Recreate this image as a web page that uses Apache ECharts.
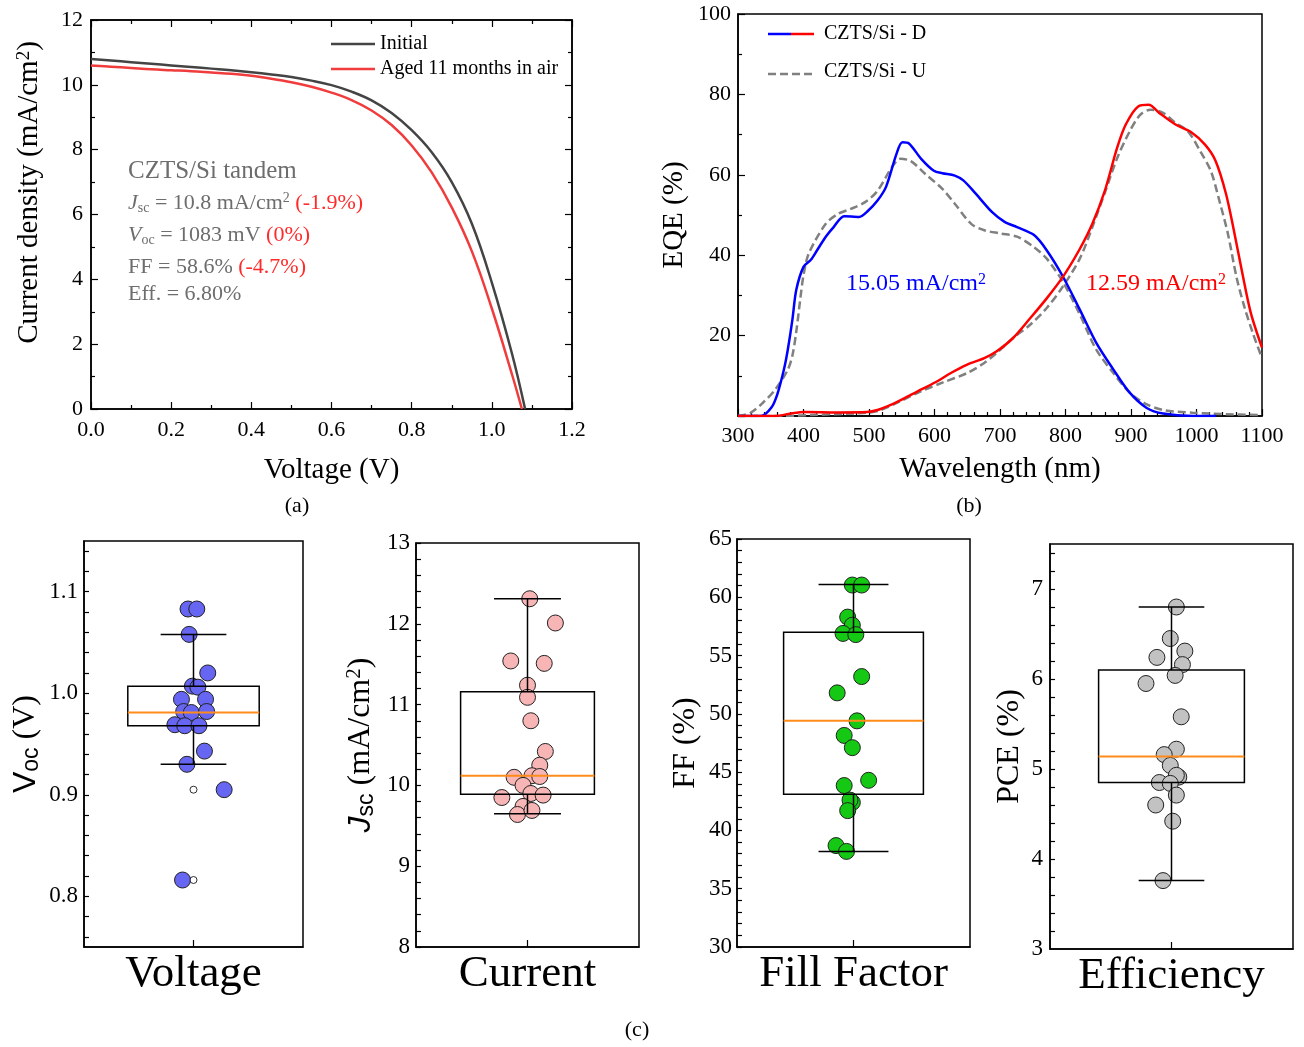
<!DOCTYPE html>
<html>
<head>
<meta charset="utf-8">
<script src="https://cdn.jsdelivr.net/npm/echarts@6/dist/echarts.min.js"></script>
<style>
html, body { margin: 0; padding: 0; background: #fff; }
#main { width: 1304px; height: 1047px; }
</style>
</head>
<body>
<div id="main"></div>
<script>
// ---- data: (a) J-V curves ----
var ivInitV = [0, 0.05, 0.1, 0.15, 0.2, 0.25, 0.3, 0.35, 0.4, 0.45, 0.5, 0.55, 0.6, 0.65, 0.7, 0.75, 0.8, 0.85, 0.9, 0.95, 1.0, 1.05, 1.083];
var ivInitJ = [10.80, 10.75, 10.70, 10.65, 10.60, 10.55, 10.50, 10.45, 10.39, 10.32, 10.24, 10.13, 9.99, 9.79, 9.52, 9.13, 8.60, 7.92, 7.00, 5.72, 3.90, 1.72, 0];
var ivAgedV = [0, 0.05, 0.1, 0.15, 0.2, 0.25, 0.3, 0.35, 0.4, 0.45, 0.5, 0.55, 0.6, 0.65, 0.7, 0.75, 0.8, 0.85, 0.9, 0.95, 1.0, 1.05, 1.075];
var ivAgedJ = [10.60, 10.56, 10.52, 10.48, 10.45, 10.42, 10.38, 10.34, 10.28, 10.19, 10.08, 9.94, 9.76, 9.53, 9.21, 8.76, 8.13, 7.30, 6.22, 4.87, 3.10, 1.08, 0];

// ---- data: (b) EQE curves ----
var dTopW = [300, 320, 335, 351, 360, 370, 376, 383, 389, 400, 411, 421, 434, 446, 462, 485, 497, 513, 526, 542, 551, 561, 580, 599, 612, 631, 644, 663, 688, 707, 726, 752, 771, 796, 822, 847, 873, 898, 924, 949, 994, 1030];
var dTopE = [0, 0, 0, 2.1, 5.4, 11.5, 16.5, 23.9, 31.4, 37.1, 38.8, 41.3, 44.6, 47, 49.7, 49.5, 50.8, 53.6, 57, 65.2, 68.1, 67.8, 63.9, 61, 60.4, 59.8, 58.6, 55.3, 50.7, 48.3, 47, 45, 41.3, 34.7, 26.4, 18.2, 11.6, 5.8, 2, 0.6, 0, 0];
var dBotW = [300, 357, 383, 402, 453, 497, 513, 535, 561, 580, 605, 625, 650, 676, 695, 720, 746, 771, 796, 822, 841, 860, 879, 892, 911, 927, 943, 968, 991, 1013, 1029, 1045, 1057, 1070, 1083, 1100];
var dBotE = [0, 0, 0.7, 1.0, 0.9, 1.0, 1.5, 2.9, 5.0, 6.6, 8.7, 10.7, 12.8, 14.4, 16.1, 19.4, 24.3, 29.2, 34.6, 41.6, 47.8, 56, 66.8, 72.5, 77, 77.4, 75.4, 72.5, 70.7, 67.5, 63.5, 55.3, 46.2, 35.5, 25.6, 17];
var uTopW = [300, 319, 338, 357, 376, 383, 389, 395, 400, 408, 434, 453, 472, 494, 513, 535, 548, 564, 586, 612, 631, 656, 676, 701, 726, 752, 771, 796, 822, 847, 873, 898, 924, 949, 994, 1057, 1100];
var uTopE = [0, 0.8, 3.3, 6.6, 11.5, 15, 21, 29, 35, 40.4, 47.8, 50.3, 51.5, 53.2, 56, 61.9, 64, 63.4, 60.2, 56.5, 52.8, 47.8, 46.2, 45.4, 44.6, 42, 39.2, 33.4, 25.2, 16.5, 10.7, 5.8, 2.9, 1.5, 0.8, 0.4, 0.2];
var uBotW = [300, 357, 421, 497, 513, 548, 580, 612, 650, 676, 695, 720, 746, 771, 796, 822, 841, 860, 879, 898, 914, 930, 949, 968, 987, 1006, 1022, 1035, 1048, 1061, 1073, 1086, 1100];
var uBotE = [0, 0, 0.3, 0.8, 1.2, 3.7, 6.2, 8.3, 10.7, 13.2, 15.7, 19.4, 22.7, 26.8, 32.2, 39.2, 47, 55.5, 64.2, 70.8, 74.9, 76.2, 75.4, 72.9, 70.8, 65.8, 60.9, 53.5, 45.3, 34.6, 27.2, 20.6, 14.4];

// ---- data: (c) device statistics, x = horizontal jitter ----
var vocX = [-0.05, 0.03, -0.04, 0.13, -0.01, 0.04, -0.11, 0.11, -0.09, -0.02, 0.12, -0.17, -0.08, 0.05, 0.10, -0.06, 0.28, -0.10];
var vocY = [1.083, 1.083, 1.058, 1.020, 1.007, 1.006, 0.994, 0.994, 0.982, 0.981, 0.982, 0.969, 0.968, 0.968, 0.943, 0.930, 0.905, 0.816];
var vocBox = [0.968, 0.981, 1.007, 0.930, 1.058]; // q1, median, q3, low, high
var vocOut = [0.905, 0.816];

var jscX = [0.02, 0.25, -0.15, 0.15, 0.0, 0.0, 0.03, 0.16, 0.11, -0.12, 0.04, 0.11, -0.04, 0.03, 0.14, -0.23, -0.04, -0.09, 0.04];
var jscY = [12.31, 12.01, 11.54, 11.51, 11.24, 11.09, 10.80, 10.42, 10.25, 10.10, 10.12, 10.11, 10.0, 9.90, 9.88, 9.85, 9.74, 9.64, 9.69];
var jscBox = [9.89, 10.12, 11.16, 9.65, 12.31];

var ffX = [-0.01, 0.07, -0.05, -0.01, -0.09, 0.02, 0.07, -0.14, 0.03, -0.08, -0.01, 0.13, -0.08, -0.01, -0.03, -0.05, -0.15, -0.06];
var ffY = [61.05, 61.05, 58.3, 57.6, 56.9, 56.8, 53.2, 51.8, 49.4, 48.15, 47.1, 44.3, 43.85, 42.4, 42.6, 41.7, 38.7, 38.2];
var ffBox = [43.1, 49.4, 57.0, 38.2, 61.1];

var pceX = [0.04, -0.01, 0.11, -0.12, 0.09, 0.03, -0.21, 0.08, 0.04, -0.06, -0.01, 0.06, 0.04, -0.10, -0.01, 0.04, -0.13, 0.01, -0.07];
var pceY = [6.80, 6.45, 6.31, 6.24, 6.16, 6.04, 5.95, 5.58, 5.22, 5.16, 5.04, 4.91, 4.93, 4.85, 4.84, 4.71, 4.60, 4.42, 3.76];
var pceBox = [4.85, 5.14, 6.10, 3.76, 6.80];

// tick values for the box panels
var vocLabels = [0.8, 0.9, 1.0, 1.1];
var vocTicks = [0.76, 0.78, 0.8, 0.82, 0.84, 0.86, 0.88, 0.9, 0.92, 0.94, 0.96, 0.98, 1.0, 1.02, 1.04, 1.06, 1.08, 1.1, 1.12, 1.14];
var pceLabels = [3, 4, 5, 6, 7];
var pceTicks = [3.2, 3.4, 3.6, 3.8, 4, 4.2, 4.4, 4.6, 4.8, 5, 5.2, 5.4, 5.6, 5.8, 6, 6.2, 6.4, 6.6, 6.8, 7, 7.2, 7.4];

var SERIF = "'Liberation Serif', 'Times New Roman', serif";
var SANS = "'Liberation Sans', Arial, sans-serif";

function zip(xs, ys) {
    var out = [];
    for (var i = 0; i < xs.length; i++) out.push([xs[i], ys[i]]);
    return out;
}

function merge(a, b) {
    var r = {};
    for (var k in a) r[k] = a[k];
    for (var k2 in b) {
        if (b[k2] && typeof b[k2] === 'object' && !Array.isArray(b[k2]) && r[k2] && typeof r[k2] === 'object') {
            r[k2] = merge(r[k2], b[k2]);
        } else {
            r[k2] = b[k2];
        }
    }
    return r;
}

var baseAxis = {
    type: 'value',
    nameLocation: 'middle',
    splitLine: { show: false },
    axisLine: { show: true, onZero: false, lineStyle: { color: '#000', width: 1.5 } },
    axisTick: { show: true, inside: true, length: 7, lineStyle: { color: '#000', width: 1.2 } },
    minorTick: { show: true, splitNumber: 2, length: 4, lineStyle: { color: '#000', width: 1.2 } },
    axisLabel: { color: '#000', fontFamily: SERIF, fontSize: 22 },
    nameTextStyle: { color: '#000', fontFamily: SERIF, fontSize: 29 }
};
function ax(o) { return merge(baseAxis, o); }

var supRich = { sup: { fontFamily: SERIF, fontSize: 19, verticalAlign: 'top', lineHeight: 14 } };

// box panel frame
function boxGrid(l, t, w, h) {
    return { left: l, top: t, width: w, height: h, show: true, borderColor: '#000', borderWidth: 1.5, backgroundColor: 'transparent' };
}
function boxX(gi, name) {
    return ax({
        gridIndex: gi, min: -1, max: 1, name: name, nameGap: 5,
        axisLabel: { show: false },
        axisTick: { customValues: [0], length: 7 },
        minorTick: { show: false },
        nameTextStyle: { fontSize: 45 }
    });
}

function boxSeries(idx, box, capHalf) {
    return {
        type: 'custom', xAxisIndex: idx, yAxisIndex: idx, z: 5,
        data: [[0].concat(box)],
        encode: { x: 0, y: [1, 2, 3, 4, 5] },
        renderItem: function (params, api) {
            var q1 = api.value(1), md = api.value(2), q3 = api.value(3), lo = api.value(4), hi = api.value(5);
            var tl = api.coord([-0.6, q3]), br = api.coord([0.6, q1]);
            var ml = api.coord([-0.6, md]), mr = api.coord([0.6, md]);
            var top = api.coord([0, hi]), bot = api.coord([0, lo]);
            var cl = api.coord([-capHalf, hi]), cr = api.coord([capHalf, hi]);
            var bl = api.coord([-capHalf, lo]), brc = api.coord([capHalf, lo]);
            var s = { stroke: '#000', lineWidth: 1.5, fill: null };
            return {
                type: 'group',
                children: [
                    { type: 'rect', shape: { x: tl[0], y: tl[1], width: br[0] - tl[0], height: br[1] - tl[1] }, style: s },
                    { type: 'line', shape: { x1: top[0], y1: top[1], x2: top[0], y2: tl[1] }, style: s },
                    { type: 'line', shape: { x1: bot[0], y1: br[1], x2: bot[0], y2: bot[1] }, style: s },
                    { type: 'line', shape: { x1: cl[0], y1: cl[1], x2: cr[0], y2: cr[1] }, style: s },
                    { type: 'line', shape: { x1: bl[0], y1: bl[1], x2: brc[0], y2: brc[1] }, style: s },
                    { type: 'line', shape: { x1: ml[0], y1: ml[1], x2: mr[0], y2: mr[1] }, style: { stroke: '#ff8c1a', lineWidth: 2 } }
                ]
            };
        }
    };
}
function dots(idx, xs, ys, color) {
    return {
        type: 'scatter', xAxisIndex: idx, yAxisIndex: idx, z: 3,
        symbolSize: 16, data: zip(xs, ys),
        itemStyle: { color: color, borderColor: '#222', borderWidth: 1, opacity: 1 }
    };
}

var chart = echarts.init(document.getElementById('main'));

var option = {
    backgroundColor: '#fff',
    animation: false,
    grid: [
        { left: 91, top: 20, width: 481, height: 389, show: true, borderColor: '#000', borderWidth: 1.5, backgroundColor: 'transparent' },
        { left: 738, top: 14, width: 524, height: 402, show: true, borderColor: '#000', borderWidth: 1.5, backgroundColor: 'transparent' },
        boxGrid(84, 541, 219, 406),
        boxGrid(416, 543, 223, 404),
        boxGrid(737, 539, 233, 408),
        boxGrid(1050, 544, 243, 405)
    ],
    xAxis: [
        ax({ gridIndex: 0, min: 0, max: 1.2, interval: 0.2, name: 'Voltage (V)', nameGap: 47,
            axisLabel: { margin: 10, formatter: function (v) { return v.toFixed(1); } } }),
        ax({ gridIndex: 0, min: 0, max: 1.2, interval: 0.2, position: 'top', axisLabel: { show: false } }),
        ax({ gridIndex: 1, min: 300, max: 1100, interval: 100, name: 'Wavelength (nm)', nameGap: 39,
            axisLabel: { margin: 9, formatter: function (v) { return String(v); } }, minorTick: { splitNumber: 5 } }),
        boxX(2, 'Voltage'),
        boxX(3, 'Current'),
        boxX(4, 'Fill Factor'),
        boxX(5, 'Efficiency')
    ],
    yAxis: [
        ax({ gridIndex: 0, min: 0, max: 12, interval: 2, name: 'Current density (mA/cm{sup|2})', nameGap: 47,
            axisLabel: { margin: 8 }, nameTextStyle: { rich: supRich, padding: [0, 0, 0, 44] } }),
        ax({ gridIndex: 0, min: 0, max: 12, interval: 2, position: 'right', axisLabel: { show: false } }),
        ax({ gridIndex: 1, min: 0, max: 100, interval: 20, name: 'EQE (%)', nameGap: 49,
            axisLabel: { margin: 7, showMinLabel: false } }),
        ax({ gridIndex: 2, min: 0.75, max: 1.15, name: '{v|V}{sub|oc} (V)', nameGap: 41,
            axisLabel: { margin: 6, fontSize: 23, customValues: vocLabels, formatter: function (v) { return v.toFixed(1); } },
            axisTick: { customValues: vocTicks, length: 5 }, minorTick: { show: false },
            nameTextStyle: { fontSize: 32, rich: {
                v: { fontFamily: SANS, fontSize: 32, lineHeight: 34 },
                sub: { fontFamily: SANS, fontSize: 23, verticalAlign: 'bottom', lineHeight: 16 } } } }),
        ax({ gridIndex: 3, min: 8, max: 13, interval: 1, name: '{j|J}{sub|sc} (mA/cm{sup|2})', nameGap: 38,
            axisLabel: { margin: 6, fontSize: 23 }, axisTick: { length: 5 }, minorTick: { splitNumber: 5, length: 5 },
            nameTextStyle: { fontSize: 32, rich: {
                j: { fontFamily: SANS, fontStyle: 'italic', fontSize: 32, lineHeight: 34 },
                sub: { fontFamily: SANS, fontSize: 23, verticalAlign: 'bottom', lineHeight: 16 },
                sup: { fontFamily: SERIF, fontSize: 21, verticalAlign: 'top', lineHeight: 14 } } } }),
        ax({ gridIndex: 4, min: 30, max: 65, interval: 5, name: 'FF (%)', nameGap: 35,
            axisLabel: { margin: 5, fontSize: 23 }, axisTick: { length: 5 }, minorTick: { splitNumber: 5, length: 5 },
            nameTextStyle: { fontSize: 32 } }),
        ax({ gridIndex: 5, min: 3, max: 7.5, name: 'PCE (%)', nameGap: 24,
            axisLabel: { margin: 7, fontSize: 23, customValues: pceLabels },
            axisTick: { customValues: pceTicks, length: 5 }, minorTick: { show: false },
            nameTextStyle: { fontSize: 32 } })
    ],
    series: [
        { type: 'line', xAxisIndex: 0, yAxisIndex: 0, data: zip(ivInitV, ivInitJ), smooth: 0.4, showSymbol: false,
            lineStyle: { color: '#444', width: 2.5 } },
        { type: 'line', xAxisIndex: 0, yAxisIndex: 0, data: zip(ivAgedV, ivAgedJ), smooth: 0.4, showSymbol: false,
            lineStyle: { color: '#f03c3c', width: 2.5 } },

        { type: 'line', xAxisIndex: 2, yAxisIndex: 2, data: zip(uTopW, uTopE), smooth: 0.3, showSymbol: false,
            lineStyle: { color: '#808080', width: 2.5, type: [8, 4] } },
        { type: 'line', xAxisIndex: 2, yAxisIndex: 2, data: zip(uBotW, uBotE), smooth: 0.3, showSymbol: false,
            lineStyle: { color: '#808080', width: 2.5, type: [8, 4] } },
        { type: 'line', xAxisIndex: 2, yAxisIndex: 2, data: zip(dTopW, dTopE), smooth: 0.3, showSymbol: false,
            lineStyle: { color: '#0000ff', width: 2.5 } },
        { type: 'line', xAxisIndex: 2, yAxisIndex: 2, data: zip(dBotW, dBotE), smooth: 0.3, showSymbol: false,
            lineStyle: { color: '#ff0000', width: 2.5 } },

        dots(3, vocX, vocY, '#6666f2'),
        { type: 'scatter', xAxisIndex: 3, yAxisIndex: 3, z: 4, symbolSize: 7,
            data: vocOut.map(function (v) { return [0, v]; }),
            itemStyle: { color: '#fff', borderColor: '#000', borderWidth: 1 } },
        boxSeries(3, vocBox, 0.3),
        dots(4, jscX, jscY, '#f7b5b5'),
        boxSeries(4, jscBox, 0.3),
        dots(5, ffX, ffY, '#14c814'),
        boxSeries(5, ffBox, 0.3),
        dots(6, pceX, pceY, '#c2c2c2'),
        boxSeries(6, pceBox, 0.27)
    ],
    graphic: [
        // legend (a)
        { type: 'line', shape: { x1: 331, y1: 44, x2: 375, y2: 44 }, style: { stroke: '#444', lineWidth: 2.5 } },
        { type: 'text', x: 380, y: 44, style: { text: 'Initial', fontFamily: SERIF, fontSize: 20, fill: '#000', verticalAlign: 'middle' } },
        { type: 'line', shape: { x1: 331, y1: 69, x2: 375, y2: 69 }, style: { stroke: '#f03c3c', lineWidth: 2.5 } },
        { type: 'text', x: 380, y: 69, style: { text: 'Aged 11 months in air', fontFamily: SERIF, fontSize: 20, fill: '#000', verticalAlign: 'middle' } },
        // annotation (a)
        { type: 'text', x: 128, y: 171, style: { text: 'CZTS/Si tandem', fontFamily: SERIF, fontSize: 25, fill: '#6d6d6d', verticalAlign: 'middle' } },
        { type: 'text', x: 128, y: 203, style: { text: '{i|J}{sub|sc} = 10.8 mA/cm{sup|2} {r|(-1.9%)}', fontFamily: SERIF, fontSize: 22, fill: '#6d6d6d', verticalAlign: 'middle',
            rich: { i: { fontStyle: 'italic', fontFamily: SERIF, fontSize: 22, fill: '#6d6d6d', lineHeight: 24 },
                sub: { fontFamily: SERIF, fontSize: 14, fill: '#6d6d6d', verticalAlign: 'bottom', lineHeight: 10 },
                sup: { fontFamily: SERIF, fontSize: 14, fill: '#6d6d6d', verticalAlign: 'top', lineHeight: 10 },
                r: { fontFamily: SERIF, fontSize: 22, fill: '#ff2a2a' } } } },
        { type: 'text', x: 128, y: 235, style: { text: '{i|V}{sub|oc} = 1083 mV {r|(0%)}', fontFamily: SERIF, fontSize: 22, fill: '#6d6d6d', verticalAlign: 'middle',
            rich: { i: { fontStyle: 'italic', fontFamily: SERIF, fontSize: 22, fill: '#6d6d6d', lineHeight: 24 },
                sub: { fontFamily: SERIF, fontSize: 14, fill: '#6d6d6d', verticalAlign: 'bottom', lineHeight: 10 },
                r: { fontFamily: SERIF, fontSize: 22, fill: '#ff2a2a' } } } },
        { type: 'text', x: 128, y: 267, style: { text: 'FF = 58.6% {r|(-4.7%)}', fontFamily: SERIF, fontSize: 22, fill: '#6d6d6d', verticalAlign: 'middle',
            rich: { r: { fontFamily: SERIF, fontSize: 22, fill: '#ff2a2a' } } } },
        { type: 'text', x: 128, y: 294, style: { text: 'Eff. = 6.80%', fontFamily: SERIF, fontSize: 22, fill: '#6d6d6d', verticalAlign: 'middle' } },
        // legend (b)
        { type: 'line', shape: { x1: 768, y1: 34, x2: 791, y2: 34 }, style: { stroke: '#0000ff', lineWidth: 2.5 } },
        { type: 'line', shape: { x1: 791, y1: 34, x2: 814, y2: 34 }, style: { stroke: '#ff0000', lineWidth: 2.5 } },
        { type: 'text', x: 824, y: 34, style: { text: 'CZTS/Si - D', fontFamily: SERIF, fontSize: 20, fill: '#000', verticalAlign: 'middle' } },
        { type: 'line', shape: { x1: 768, y1: 74, x2: 814, y2: 74 }, style: { stroke: '#808080', lineWidth: 2.5, lineDash: [8, 4] } },
        { type: 'text', x: 824, y: 72, style: { text: 'CZTS/Si - U', fontFamily: SERIF, fontSize: 20, fill: '#000', verticalAlign: 'middle' } },
        // annotation (b)
        { type: 'text', x: 846, y: 284, style: { text: '15.05 mA/cm{sup|2}', fontFamily: SERIF, fontSize: 24, fill: '#0000ff', verticalAlign: 'middle',
            rich: { sup: { fontFamily: SERIF, fontSize: 16, fill: '#0000ff', verticalAlign: 'top', lineHeight: 12 } } } },
        { type: 'text', x: 1086, y: 284, style: { text: '12.59 mA/cm{sup|2}', fontFamily: SERIF, fontSize: 24, fill: '#ff0000', verticalAlign: 'middle',
            rich: { sup: { fontFamily: SERIF, fontSize: 16, fill: '#ff0000', verticalAlign: 'top', lineHeight: 12 } } } },
        // panel letters
        { type: 'text', x: 297, y: 506, style: { text: '(a)', fontFamily: SERIF, fontSize: 22, fill: '#000', align: 'center', verticalAlign: 'middle' } },
        { type: 'text', x: 969, y: 506, style: { text: '(b)', fontFamily: SERIF, fontSize: 22, fill: '#000', align: 'center', verticalAlign: 'middle' } },
        { type: 'text', x: 637, y: 1030, style: { text: '(c)', fontFamily: SERIF, fontSize: 22, fill: '#000', align: 'center', verticalAlign: 'middle' } }
    ]
};

chart.setOption(option);
</script>
</body>
</html>
